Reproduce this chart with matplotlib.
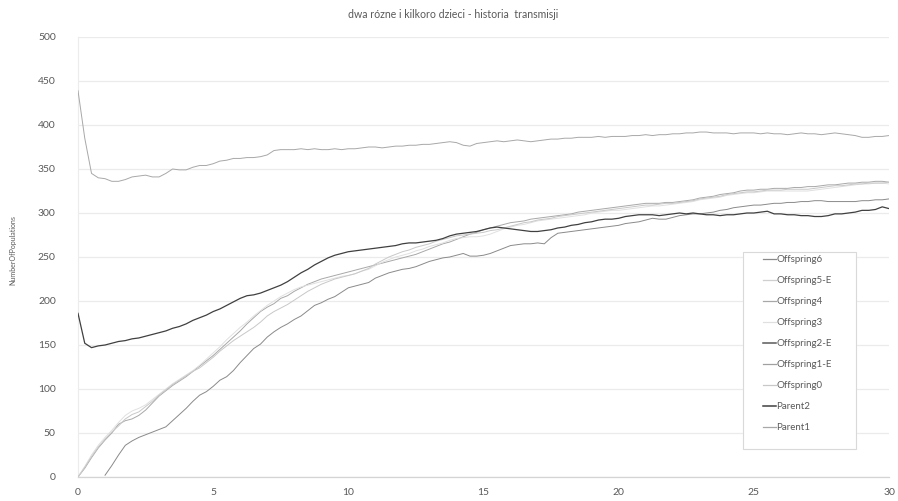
import numpy as np
import matplotlib.pyplot as plt
from matplotlib.patches import Rectangle
from matplotlib.lines import Line2D

plt.rcParams['font.family'] = ['Lato', 'DejaVu Sans']

# time axis: one sample every 0.25 unit from 0 to 30
t = np.linspace(0, 30, 121)

parent1 = [439, 385, 345, 340, 339, 336, 336, 338,
           341, 342, 343, 341, 341, 345, 350, 349,
           349, 352, 354, 354, 356, 359, 360, 362,
           362, 363, 363, 364, 366, 371, 372, 372,
           372, 373, 372, 373, 372, 372, 373, 372,
           373, 373, 374, 375, 375, 374, 375, 376,
           376, 377, 377, 378, 378, 379, 380, 381,
           380, 377, 376, 379, 380, 381, 382, 381,
           382, 383, 382, 381, 382, 383, 384, 384,
           385, 385, 386, 386, 386, 387, 386, 387,
           387, 387, 388, 388, 389, 388, 389, 389,
           390, 390, 391, 391, 392, 392, 391, 391,
           391, 390, 391, 391, 391, 390, 391, 390,
           390, 389, 390, 391, 390, 390, 389, 390,
           391, 390, 389, 388, 386, 386, 387, 387,
           388]

parent2 = [186, 152, 147, 149, 150, 152, 154, 155,
           157, 158, 160, 162, 164, 166, 169, 171,
           174, 178, 181, 184, 188, 191, 195, 199,
           203, 206, 207, 209, 212, 215, 218, 222,
           227, 232, 236, 241, 245, 249, 252, 254,
           256, 257, 258, 259, 260, 261, 262, 263,
           265, 266, 266, 267, 268, 269, 271, 274,
           276, 277, 278, 279, 281, 283, 284, 283,
           282, 281, 280, 279, 279, 280, 281, 283,
           284, 286, 287, 289, 290, 292, 293, 293,
           294, 296, 297, 298, 298, 298, 297, 298,
           299, 300, 299, 300, 299, 298, 298, 297,
           298, 298, 299, 300, 300, 301, 302, 299,
           299, 298, 298, 297, 297, 296, 296, 297,
           299, 299, 300, 301, 303, 303, 304, 307,
           305]

offspring0 = [0, 11, 23, 34, 43, 51, 58, 66,
              71, 74, 80, 86, 93, 99, 105, 110,
              115, 120, 124, 130, 136, 143, 149, 155,
              160, 165, 170, 176, 183, 188, 192, 196,
              201, 206, 211, 215, 219, 222, 225, 227,
              229, 231, 234, 237, 242, 246, 250, 253,
              256, 258, 261, 263, 265, 268, 270, 272,
              274, 275, 276, 277, 278, 280, 281, 283,
              285, 287, 289, 290, 292, 293, 294, 296,
              297, 298, 299, 300, 301, 302, 303, 304,
              305, 306, 307, 308, 309, 309, 310, 311,
              311, 312, 313, 314, 316, 317, 318, 319,
              321, 322, 323, 324, 324, 325, 326, 326,
              326, 327, 327, 327, 327, 328, 329, 330,
              331, 331, 332, 333, 333, 334, 334, 334,
              335]

offspring3 = [0, 12, 25, 36, 45, 53, 62, 70,
              75, 78, 82, 88, 94, 100, 106, 111,
              116, 121, 127, 134, 141, 148, 156, 163,
              170, 176, 183, 189, 195, 200, 205, 209,
              213, 216, 218, 220, 222, 224, 226, 228,
              229, 231, 234, 236, 240, 244, 247, 250,
              252, 254, 257, 259, 262, 264, 266, 269,
              271, 272, 273, 273, 274, 276, 279, 282,
              284, 286, 287, 289, 291, 292, 293, 294,
              295, 296, 297, 298, 300, 301, 302, 303,
              303, 304, 305, 306, 307, 308, 308, 309,
              310, 311, 312, 313, 315, 316, 317, 318,
              320, 321, 322, 323, 323, 324, 325, 325,
              325, 325, 325, 325, 325, 326, 327, 328,
              329, 330, 331, 332, 333, 333, 334, 334,
              333]

offspring4 = [0, 10, 22, 33, 42, 50, 60, 64,
              66, 70, 76, 84, 92, 98, 104, 109,
              114, 120, 126, 132, 138, 145, 152, 159,
              166, 174, 181, 188, 193, 197, 203, 206,
              211, 215, 219, 222, 225, 227, 229, 231,
              233, 235, 237, 239, 241, 243, 245, 247,
              249, 251, 253, 256, 259, 262, 265, 267,
              270, 273, 276, 278, 281, 283, 285, 287,
              289, 290, 291, 293, 294, 295, 296, 297,
              298, 299, 301, 302, 303, 304, 305, 306,
              307, 308, 309, 310, 311, 311, 311, 312,
              312, 313, 314, 315, 317, 318, 319, 321,
              322, 323, 325, 326, 326, 327, 327, 328,
              328, 328, 329, 329, 330, 330, 331, 332,
              332, 333, 334, 334, 335, 335, 336, 336,
              335]

offspring6 = [np.nan, np.nan, np.nan, np.nan, 2, 13, 25, 36,
              41, 45, 48, 51, 54, 57, 64, 71,
              78, 86, 93, 97, 103, 110, 114, 121,
              130, 138, 146, 151, 159, 165, 170, 174,
              179, 183, 189, 195, 198, 202, 205, 210,
              215, 217, 219, 221, 226, 229, 232, 234,
              236, 237, 239, 242, 245, 247, 249, 250,
              252, 254, 251, 251, 252, 254, 257, 260,
              263, 264, 265, 265, 266, 265, 272, 277,
              278, 279, 280, 281, 282, 283, 284, 285,
              286, 288, 289, 290, 292, 294, 293, 293,
              295, 297, 298, 299, 299, 300, 301, 303,
              304, 306, 307, 308, 309, 309, 310, 311,
              311, 312, 312, 313, 313, 314, 314, 313,
              313, 313, 313, 313, 314, 314, 315, 315,
              316]

# extinct offspring have no samples left to draw
offspring1_e = []
offspring2_e = []
offspring5_e = []

series = [
    ('Offspring6', offspring6, '#8a8a8a', 0.7),
    ('Offspring5-E', offspring5_e, '#cfcfcf', 0.7),
    ('Offspring4', offspring4, '#a8a8a8', 0.7),
    ('Offspring3', offspring3, '#e0e0e0', 0.7),
    ('Offspring2-E', offspring2_e, '#5a5a5a', 0.9),
    ('Offspring1-E', offspring1_e, '#a0a0a0', 0.7),
    ('Offspring0', offspring0, '#c8c8c8', 0.7),
    ('Parent2', parent2, '#404040', 0.9),
    ('Parent1', parent1, '#a8a8a8', 0.7),
]

text_color = '#595959'

fig = plt.figure(figsize=(8.98, 5.01), dpi=100)
ax = fig.add_axes([78 / 898, 24 / 501, 811 / 898, 440 / 501])

handles = []
for name, values, color, lw in series:
    if len(values):
        ax.plot(t, values, color=color, lw=lw, zorder=3)
    handles.append(Line2D([], [], color=color, lw=lw + 0.2))

ax.set_xlim(0, 30)
ax.set_ylim(0, 500)
ax.set_xticks(np.arange(0, 31, 5))
ax.set_yticks(np.arange(0, 501, 50))
ax.yaxis.grid(True, color='#ebebeb', lw=0.9)
ax.set_axisbelow(True)
ax.tick_params(length=0, labelsize=7.5, colors=text_color)
ax.tick_params(axis='y', pad=16)
ax.tick_params(axis='x', pad=8)
for side in ['top', 'right']:
    ax.spines[side].set_visible(False)
ax.spines['bottom'].set_color('#d4d4d4')
ax.spines['left'].set_color('#ececec')
ax.spines['bottom'].set_linewidth(0.9)
ax.spines['left'].set_linewidth(0.8)

fig.text(0.505, 1 - 14 / 501, 'dwa rózne i kilkoro dzieci - historia  transmisji',
         ha='center', va='center', fontsize=7.6, color=text_color)
fig.text(13 / 898, 1 - 250 / 501, 'NumberOfPopulations', rotation=90,
         ha='center', va='center', fontsize=5, color=text_color)

# legend box drawn separately so the padding can be set per side
ax.add_patch(Rectangle((665 / 811, 28 / 440), 113 / 811, 197 / 440,
                       transform=ax.transAxes, facecolor='white',
                       edgecolor='#d9d9d9', lw=0.8, zorder=4))
leg = ax.legend(handles, [s[0] for s in series], loc='upper left',
                bbox_to_anchor=(685 / 811, 222 / 440), frameon=False,
                fontsize=7, labelspacing=1.24, handlelength=1.3,
                handletextpad=0.1, borderpad=0, borderaxespad=0)
leg.set_zorder(5)
for txt in leg.get_texts():
    txt.set_color(text_color)

fig.savefig('out.png', dpi=100, facecolor='white')
